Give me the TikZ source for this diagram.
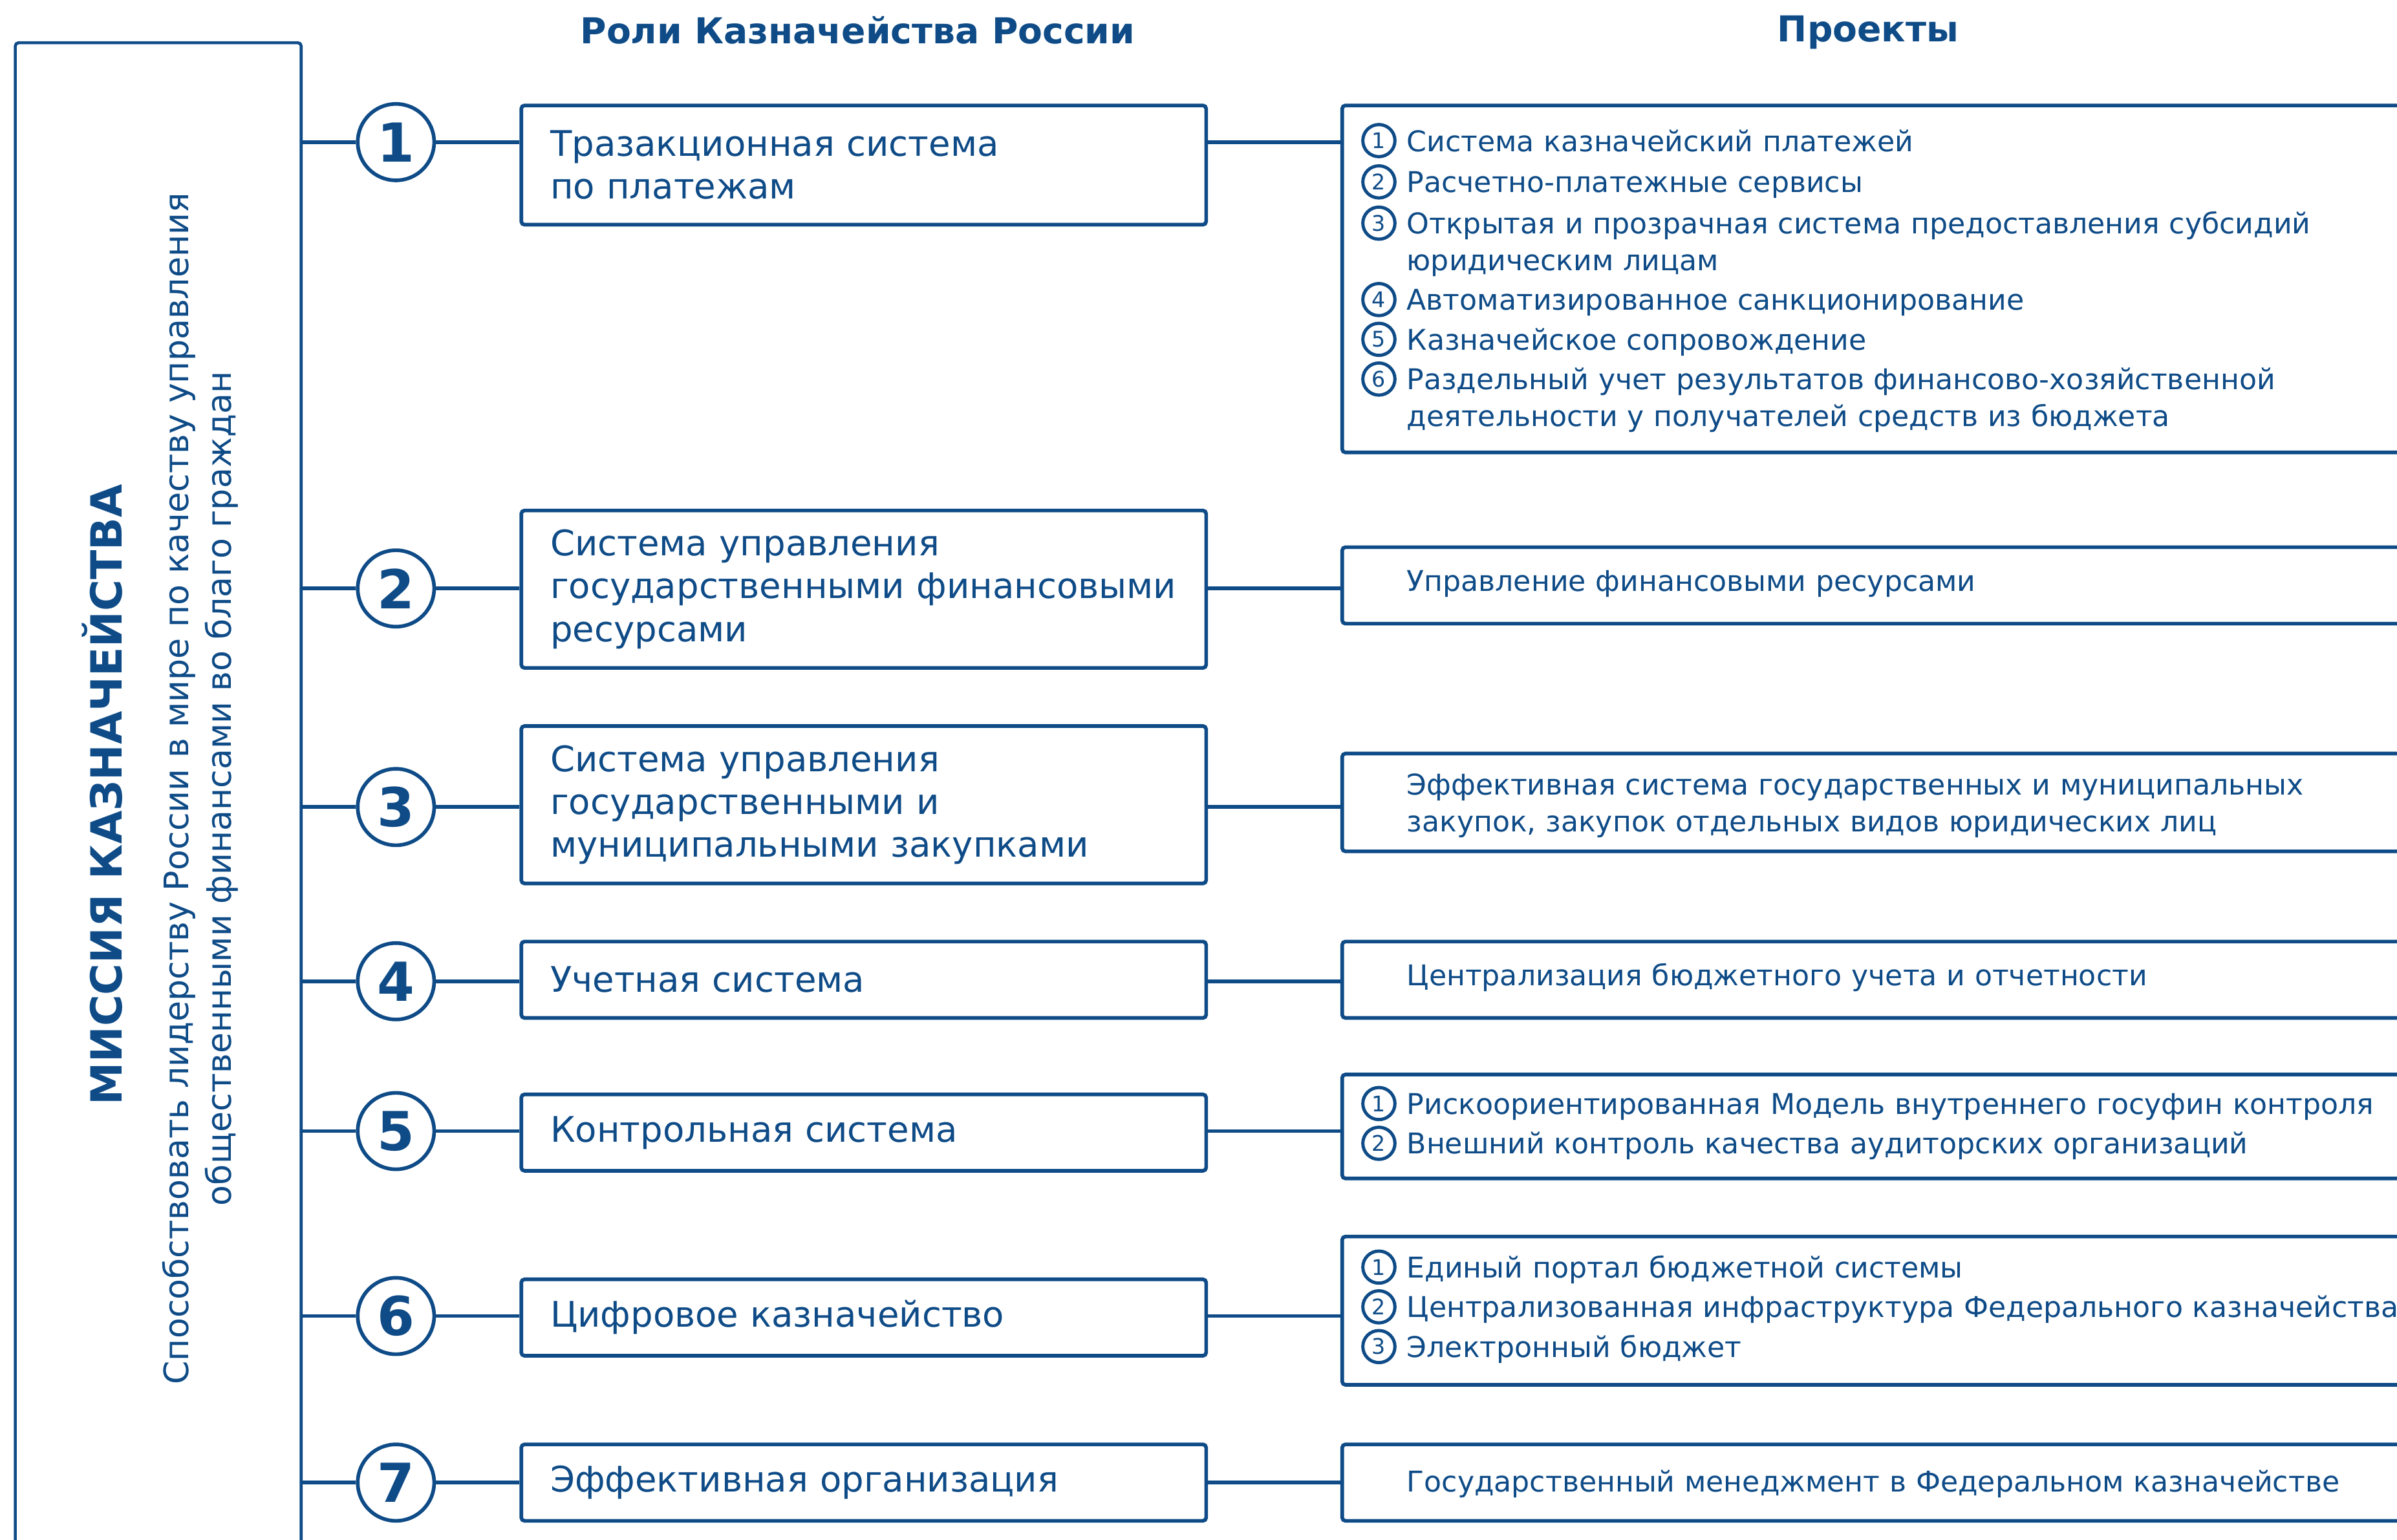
\documentclass[tikz,border=0pt]{standalone}
\usepackage{fontspec}
\setmainfont{DejaVu Sans}
\usetikzlibrary{positioning}
\definecolor{treasury}{RGB}{14,75,135}
\tikzset{
    every edge/.style={
	draw=treasury,
	line width=1.7pt,
    },
    mission/.style={
	anchor=center,
	rectangle,
	rounded corners=1.5pt,
	draw=treasury,
	line width=1.4pt,
	minimum width=46.75mm,
	minimum height=250.5mm,
	inner sep=0pt
    },
    missiontext/.style={
	anchor=center,
	rotate=90,
	align=center,
	inner sep=0pt,
	font=\fontsize{15.7}{19.9}\selectfont
    },
    heading/.style={
	anchor=center,
	inner sep=0pt,
	font=\bfseries\fontsize{16.6}{20}\selectfont
    },
    num/.style={
	anchor=center,
	circle,
	draw=treasury,
	line width=1.7pt,
	minimum size=12.5mm,
	inner sep=0pt,
	font=\bfseries\fontsize{25}{30}\selectfont
    },
    role/.style={
	anchor=center,
	rectangle,
	rounded corners=1.5pt,
	draw=treasury,
	line width=1.7pt,
	minimum height=12.5mm,
	text width=102.5mm,
	inner xsep=4.75mm,
	inner ysep=0pt,
	align=left,
	font=\fontsize{16.4}{19.9}\selectfont
    },
    project/.style={
	anchor=center,
	rectangle,
	rounded corners=1.5pt,
	draw=treasury,
	line width=1.7pt,
	minimum width=200mm,
	minimum height=12.5mm,
	inner sep=0pt
    },
    subnum/.style={
	anchor=center,
	circle,
	draw=treasury,
	line width=1.5pt,
	minimum size=5.25mm,
	inner sep=0pt,
	font=\fontsize{10}{12}\selectfont
    },
    item/.style={
	anchor=base west,
	text width=200mm,
	align=left,
	inner sep=0pt,
	font=\fontsize{13.3}{17.1}\selectfont
    },
}

\begin{document}
\begin{tikzpicture}[x=0.25mm,y=-0.25mm,color=treasury]
    \useasboundingbox (0,0) rectangle (1568,1007.5);

    \node[mission] (MIS) at (103.5,529) {};
    \node[missiontext] (MISTITLE) at (67,520) {%
	\bfseries\fontsize{20}{24}\selectfont МИССИЯ КАЗНАЧЕЙСТВА};
    \node[missiontext] (MISSUB) at (131,516) {%
	Способствовать лидерству России в мире по качеству управления\\
	общественными финансами во благо граждан};

    \node[heading] (HROLES) at (561,20) {Роли Казначейства России};
    \node[heading] (HPROJ) at (1222,21) {Проекты};

    \node[num] (c1) at (259,93) {1};
    \node[num] (c2) at (259,385) {2};
    \node[num] (c3) at (259,528) {3};
    \node[num] (c4) at (259,642) {4};
    \node[num] (c5) at (259,740) {5};
    \node[num] (c6) at (259,861) {6};
    \node[num] (c7) at (259,970) {7};

    \node[role, minimum height=19.5mm] (r1) at (565,108) {%
	Тразакционная система\\по платежам};
    \node[role, minimum height=25.75mm] (r2) at (565,385.5) {%
	Система управления\\государственными~финансовыми\\ресурсами};
    \node[role, minimum height=25.75mm] (r3) at (565,526.5) {%
	Система управления\\государственными и\\муниципальными~закупками};
    \node[role] (r4) at (565,641) {Учетная система};
    \node[role] (r5) at (565,741) {Контрольная система};
    \node[role] (r6) at (565,862) {Цифровое казначейство};
    \node[role] (r7) at (565,970) {Эффективная организация};

    \node[project, minimum height=56.75mm] (p1) at (1278,182.5) {};
    \node[project] (p2) at (1278,383) {};
    \node[project, minimum height=16mm] (p3) at (1278,525) {};
    \node[project] (p4) at (1278,641) {};
    \node[project, minimum height=17mm] (p5) at (1278,737) {};
    \node[project, minimum height=24.25mm] (p6) at (1278,857.5) {};
    \node[project] (p7) at (1278,970) {};

    \node[subnum] (n11) at (902,92) {1};
    \node[subnum] (n12) at (902,119) {2};
    \node[subnum] (n13) at (902,146) {3};
    \node[subnum] (n14) at (902,196) {4};
    \node[subnum] (n15) at (902,222) {5};
    \node[subnum] (n16) at (902,248) {6};
    \node[item] (t11) at (920,99) {Система казначейский платежей};
    \node[item] (t12) at (920,126) {Расчетно-платежные сервисы};
    \node[item] (t13) at (920,153) {%
	Открытая и прозрачная система предоставления субсидий\\
	юридическим лицам};
    \node[item] (t14) at (920,203) {Автоматизированное санкционирование};
    \node[item] (t15) at (920,229) {Казначейское сопровождение};
    \node[item] (t16) at (920,255) {%
	Раздельный учет результатов финансово-хозяйственной\\
	деятельности у получателей средств из бюджета};

    \node[item] (t2) at (920,387) {Управление финансовыми ресурсами};

    \node[item] (t3) at (920,520) {%
	Эффективная система государственных и муниципальных\\
	закупок, закупок отдельных видов юридических лиц};

    \node[item] (t4) at (920,645) {Централизация бюджетного учета и отчетности};

    \node[subnum] (n51) at (902,722) {1};
    \node[subnum] (n52) at (902,748) {2};
    \node[item] (t51) at (920,729) {%
	Рискоориентированная Модель внутреннего госуфин контроля};
    \node[item] (t52) at (920,755) {%
	Внешний контроль качества аудиторских организаций};

    \node[subnum] (n61) at (902,829) {1};
    \node[subnum] (n62) at (902,855) {2};
    \node[subnum] (n63) at (902,881) {3};
    \node[item] (t61) at (920,836) {Единый портал бюджетной системы};
    \node[item] (t62) at (920,862) {%
	Централизованная инфраструктура Федерального казначейства};
    \node[item] (t63) at (920,888) {Электронный бюджет};

    \node[item] (t7) at (920,976) {%
	Государственный менеджмент в Федеральном казначействе};


    \path (MIS.east |- c1) edge (c1);
    \path (MIS.east |- c2) edge (c2);
    \path (MIS.east |- c3) edge (c3);
    \path (MIS.east |- c4) edge (c4);
    \path (MIS.east |- c5) edge (c5);
    \path (MIS.east |- c6) edge (c6);
    \path (MIS.east |- c7) edge (c7);

    \path (c1) edge (r1.west |- c1);
    \path (c2) edge (r2.west |- c2);
    \path (c3) edge (r3.west |- c3);
    \path (c4) edge (r4.west |- c4);
    \path (c5) edge (r5.west |- c5);
    \path (c6) edge (r6.west |- c6);
    \path (c7) edge (r7.west |- c7);

    \path (r1.east |- c1) edge (p1.west |- c1);
    \path (r2.east |- c2) edge (p2.west |- c2);
    \path (r3.east |- c3) edge (p3.west |- c3);
    \path (r4.east |- c4) edge (p4.west |- c4);
    \path (r5.east |- c5) edge (p5.west |- c5);
    \path (r6.east |- c6) edge (p6.west |- c6);
    \path (r7.east |- c7) edge (p7.west |- c7);
\end{tikzpicture}
\end{document}
